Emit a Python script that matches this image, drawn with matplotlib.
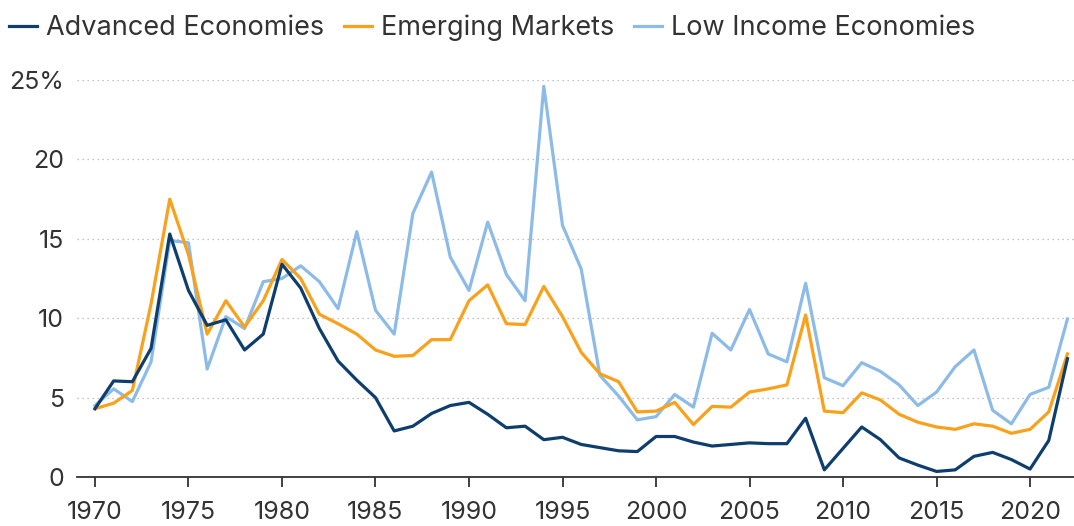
import matplotlib
matplotlib.use('Agg')
import matplotlib.pyplot as plt
import numpy as np

years = list(range(1970, 2023))

advanced = [4.3, 6.05, 6.0, 8.1, 15.3, 11.75, 9.55, 9.9, 8.0, 9.0,
            13.4, 11.9, 9.35, 7.3, 6.1, 5.0, 2.9, 3.2, 4.0, 4.5,
            4.7, 3.95, 3.1, 3.2, 2.35, 2.5, 2.05, 1.85, 1.65, 1.6,
            2.55, 2.55, 2.2, 1.95, 2.05, 2.15, 2.1, 2.1, 3.7, 0.45,
            1.8, 3.15, 2.35, 1.2, 0.75, 0.35, 0.45, 1.3, 1.55, 1.1,
            0.5, 2.3, 7.45]

emerging = [4.3, 4.65, 5.45, 10.9, 17.5, 14.0, 9.0, 11.1, 9.45, 11.1,
            13.7, 12.5, 10.25, 9.65, 9.0, 8.0, 7.6, 7.65, 8.65, 8.65,
            11.1, 12.1, 9.65, 9.6, 12.0, 10.1, 7.85, 6.5, 6.0, 4.1,
            4.15, 4.7, 3.3, 4.45, 4.4, 5.35, 5.55, 5.8, 10.2, 4.15,
            4.05, 5.3, 4.85, 3.95, 3.45, 3.15, 3.0, 3.35, 3.2, 2.75,
            3.0, 4.1, 7.75]

low_income = [4.5, 5.55, 4.75, 7.25, 14.9, 14.75, 6.8, 10.1, 9.35, 12.3,
              12.5, 13.3, 12.3, 10.6, 15.45, 10.5, 9.0, 16.6, 19.2, 13.85,
              11.75, 16.05, 12.75, 11.1, 24.6, 15.85, 13.1, 6.4, 5.1, 3.6,
              3.8, 5.2, 4.4, 9.05, 8.0, 10.55, 7.75, 7.25, 12.2, 6.25,
              5.75, 7.2, 6.65, 5.8, 4.5, 5.35, 6.95, 8.0, 4.2, 3.35,
              5.2, 5.65, 9.95]

yticks = [0, 5, 10, 15, 20, 25]
ytick_labels = ['0', '5', '10', '15', '20', '25%']
xticks = list(range(1970, 2021, 5))

text_col = '#333333'
plt.rcParams['font.family'] = ['Inter', 'DejaVu Sans']

fig = plt.figure(figsize=(10.74, 5.26), dpi=100)
ax = fig.add_axes([77 / 1074, 1 - 477 / 526, 1 - 77 / 1074, (477 - 80) / 526])

ax.plot(years, advanced, color='#0e3e6d', lw=2.3, label='Advanced Economies', zorder=3)
ax.plot(years, emerging, color='#f9a11b', lw=2.3, label='Emerging Markets', zorder=2)
ax.plot(years, low_income, color='#8dbbe8', lw=2.3, label='Low Income Economies', zorder=1)

ax.set_xlim(1969.04, 2022.35)
ax.set_ylim(0, 25)

ax.set_yticks(yticks)
ax.set_yticklabels(ytick_labels)
ax.set_xticks(xticks)

for s in ['top', 'right', 'left']:
    ax.spines[s].set_visible(False)
ax.spines['bottom'].set_color('#333333')
ax.spines['bottom'].set_linewidth(1.3)

ax.yaxis.grid(True, linestyle=(0, (1, 3)), color='#b0b0b0', lw=0.9)
ax.set_axisbelow(True)

ax.tick_params(axis='y', length=0, pad=9.5, labelsize=18, labelcolor=text_col)
ax.tick_params(axis='x', length=7, width=1.3, color='#333333', pad=10,
               labelsize=18, labelcolor=text_col)

# legend text is a bit bigger than the tick labels in the original
fig.legend(loc='center left', bbox_to_anchor=(9 / 1074, 1 - 28 / 526), ncol=3,
           frameon=False, fontsize=19.5, handlelength=1.03, handletextpad=0.33,
           columnspacing=0.74, borderpad=0, borderaxespad=0, labelcolor=text_col)

fig.savefig('out.png', dpi=100)
